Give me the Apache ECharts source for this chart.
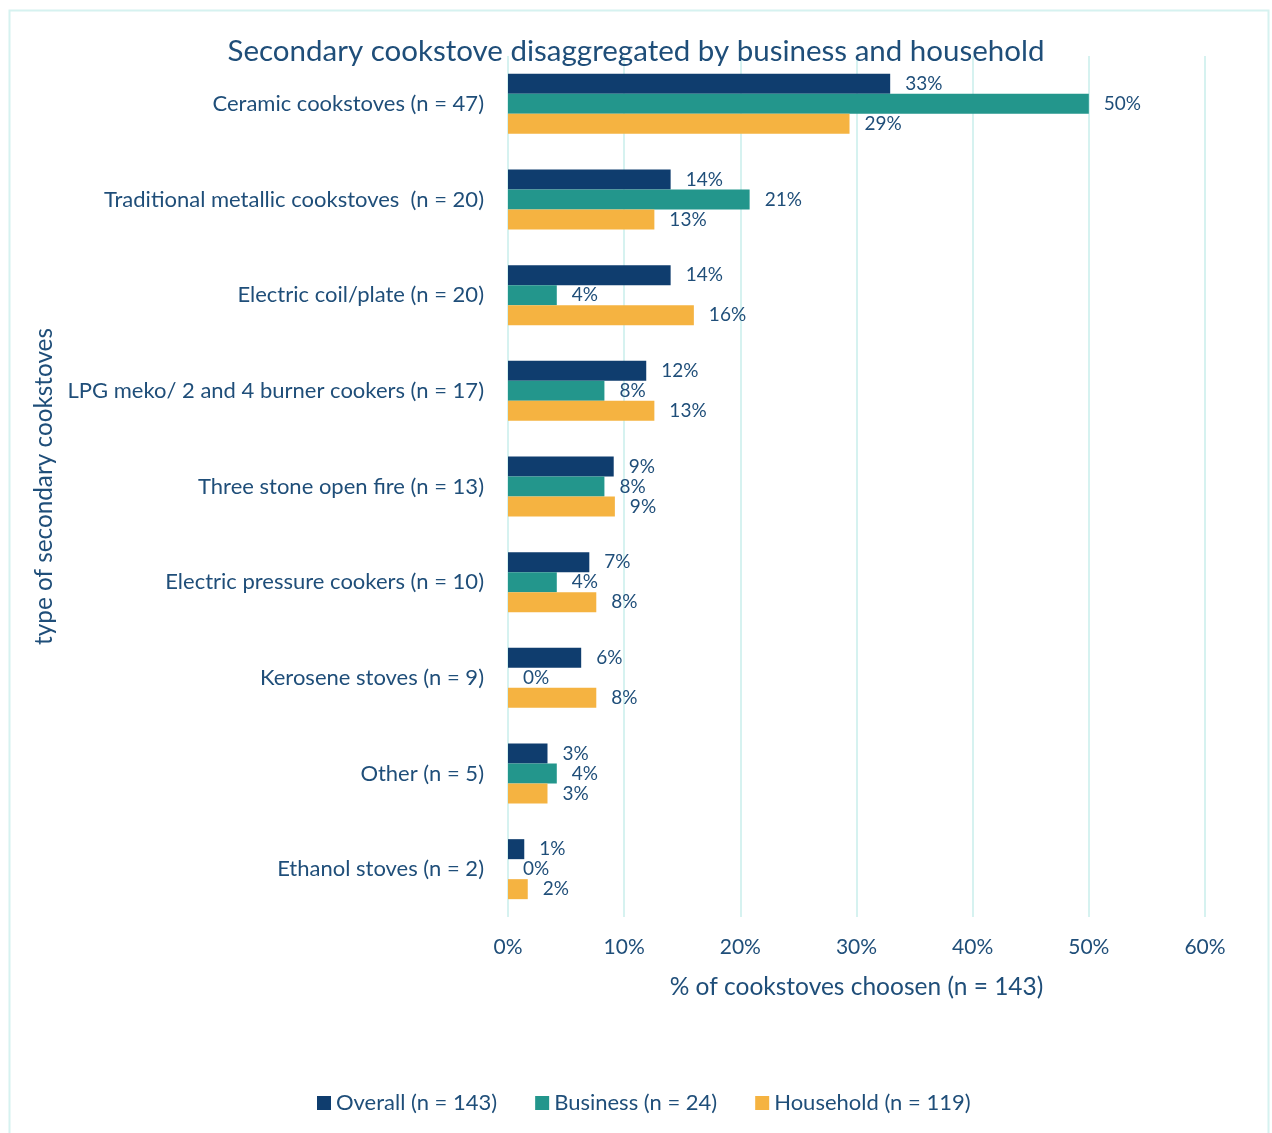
<!DOCTYPE html>
<html><head><meta charset="utf-8">
<script src="https://cdn.jsdelivr.net/npm/echarts@6/dist/echarts.min.js"></script>
<style>html,body{margin:0;padding:0;background:#fff}#c{width:1272px;height:1133px}</style>
</head><body><div id="c"></div>
<script>
const categories = ["Ceramic cookstoves (n = 47)","Traditional metallic cookstoves  (n = 20)","Electric coil/plate (n = 20)","LPG meko/ 2 and 4 burner cookers (n = 17)","Three stone open fire (n = 13)","Electric pressure cookers (n = 10)","Kerosene stoves (n = 9)","Other (n = 5)","Ethanol stoves (n = 2)"];
const overall = [32.9, 14.0, 14.0, 11.9, 9.1, 7.0, 6.3, 3.4, 1.4];
const business = [50.0, 20.8, 4.2, 8.3, 8.3, 4.2, 0, 4.2, 0];
const household = [29.4, 12.6, 16.0, 12.6, 9.2, 7.6, 7.6, 3.4, 1.7];
const seriesNames = ["Overall (n = 143)","Business (n = 24)","Household (n = 119)"];
const xTicks = [0,10,20,30,40,50,60];

const TXT = '#1f4e79';
const FONT = 'Lato';
const colors = ['#0f3d6e','#23968c','#f5b341'];
const chart = echarts.init(document.getElementById('c'));
const mk = (name, data, color) => ({
  name, type:'bar', data, barWidth:20, barGap:'0%',
  itemStyle:{color},
  label:{show:true, position:'right', distance:15, color:TXT, fontFamily:FONT, fontSize:19,
    formatter: p => Math.round(p.value) + '%'}
});
chart.setOption({
  animation:false,
  textStyle:{fontFamily:FONT},
  title:{text:'Secondary cookstove disaggregated by business and household', left:'center', top:31,
    textStyle:{color:TXT, fontFamily:FONT, fontSize:29.5, fontWeight:'normal'}},
  graphic:[{type:'rect', shape:{x:9.5,y:10.5,width:1259,height:1140}, style:{fill:'none', stroke:'#d6f2f0', lineWidth:2}, silent:true}],
  grid:{left:508, right:67, top:56, bottom:216, containLabel:false},
  legend:{bottom:14, left:312, itemWidth:14, itemHeight:14, itemGap:38, icon:'rect',
    textStyle:{color:TXT, fontFamily:FONT, fontSize:22}, data:seriesNames},
  xAxis:{type:'value', min:xTicks[0], max:xTicks[xTicks.length-1], interval:10,
    name:'% of cookstoves choosen (n = 143)', nameLocation:'middle', nameGap:58,
    nameTextStyle:{color:TXT, fontFamily:FONT, fontSize:24.5},
    axisLine:{show:false}, axisTick:{show:false},
    axisLabel:{color:TXT, fontFamily:FONT, fontSize:21, margin:20, formatter:'{value}%'},
    splitLine:{lineStyle:{color:'#d6f2f0', width:2}}},
  yAxis:{type:'category', data:categories, inverse:true,
    name:'type of secondary cookstoves', nameLocation:'middle', nameGap:451,
    nameTextStyle:{color:TXT, fontFamily:FONT, fontSize:24.3},
    axisLine:{show:false}, axisTick:{show:false},
    axisLabel:{color:TXT, fontFamily:FONT, fontSize:22, margin:24}},
  series:[mk(seriesNames[0], overall, colors[0]), mk(seriesNames[1], business, colors[1]), mk(seriesNames[2], household, colors[2])]
});
</script></body></html>
